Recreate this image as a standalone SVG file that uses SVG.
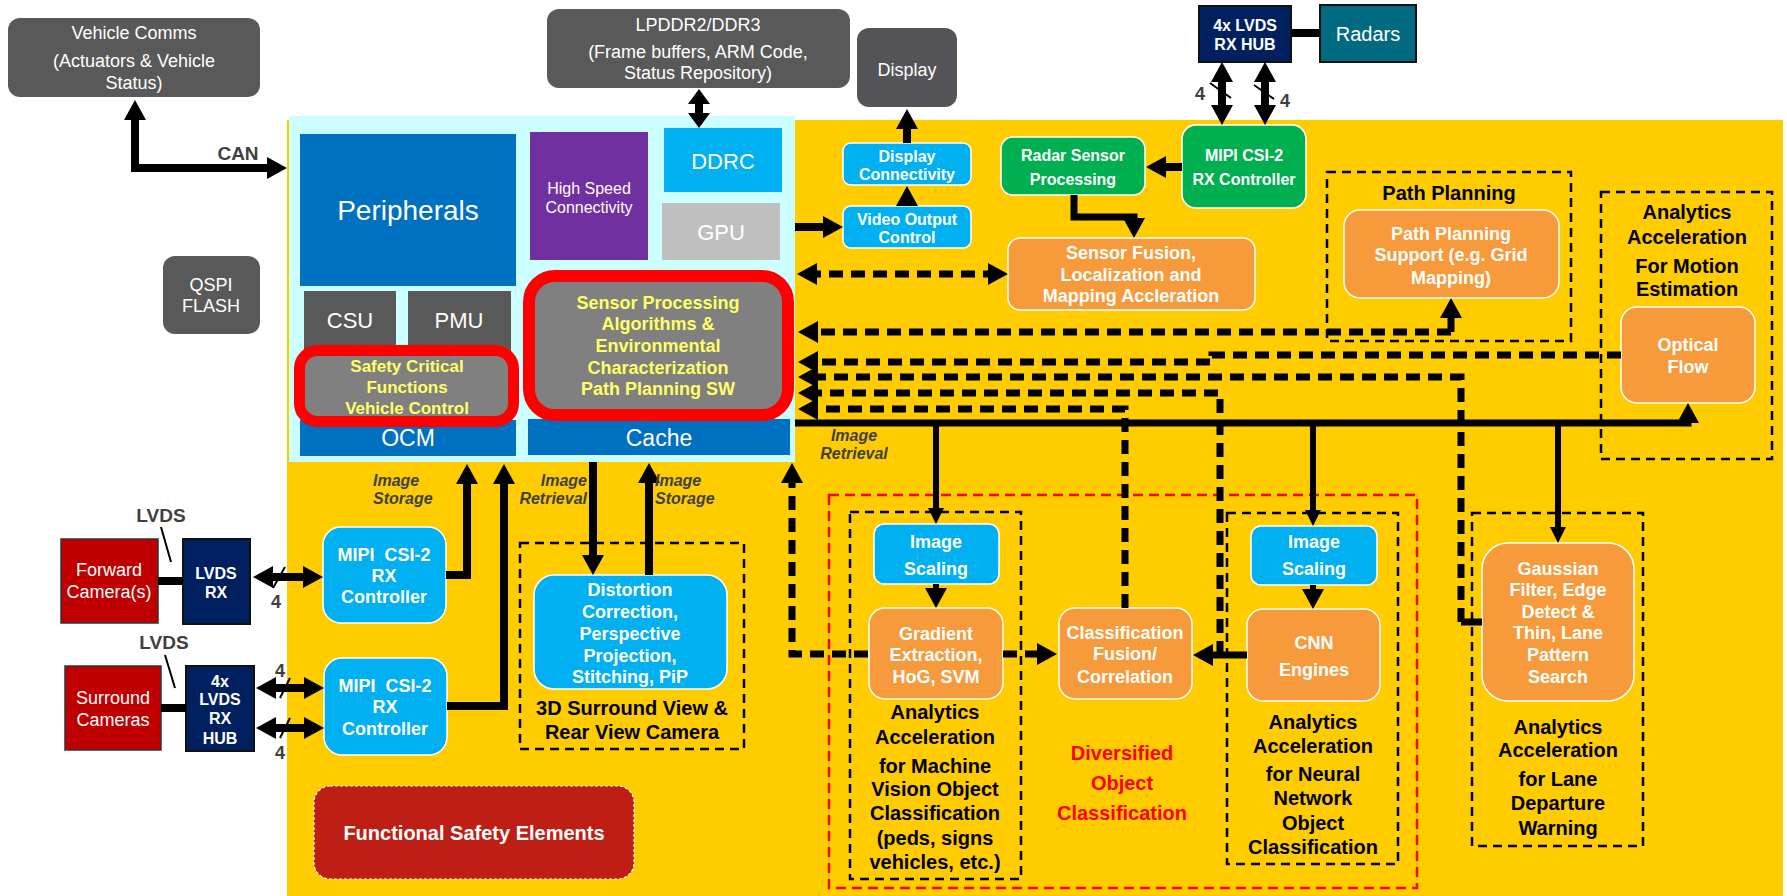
<svg xmlns="http://www.w3.org/2000/svg" width="1787" height="896" viewBox="0 0 1787 896">
<defs>
<style>
text{font-family:"Liberation Sans",Arial,Helvetica,sans-serif;text-anchor:middle}
.wt{fill:#fff}
.bd{font-weight:bold}
.yl{fill:#FFFF66;font-weight:bold}
.bk{fill:#000;font-weight:bold}
.gy{fill:#404040;font-weight:bold}
.rd{fill:#FF0000;font-weight:bold}
.it{fill:#404040;font-weight:bold;font-style:italic;font-size:16px}
.f16{font-size:16px}.f17{font-size:17px}.f18{font-size:18px}.f19{font-size:19px}.f20{font-size:20px}.f22{font-size:22px}.f23{font-size:23px}.f28{font-size:28px}
.org{fill:#F79A3B;stroke:#fff;stroke-width:1.5}
.blu{fill:#00B0F0;stroke:#fff;stroke-width:1.5}
.grn{fill:#00B050;stroke:#fff;stroke-width:1.5}
.dk{fill:#595959}
.nav{fill:#002060;stroke:#111;stroke-width:2}
.cam{fill:#C00000;stroke:#333;stroke-width:1.5}
.grp{fill:none;stroke:#000;stroke-width:2.5;stroke-dasharray:9 6}
.grpr{fill:none;stroke:#FF0000;stroke-width:2.5;stroke-dasharray:10 6}
.ln{fill:none;stroke:#000;stroke-width:8}
.bus{fill:none;stroke:#000;stroke-width:7}
.br{fill:none;stroke:#000;stroke-width:6}
.dl{fill:none;stroke:#000;stroke-width:7;stroke-dasharray:14 8}
.thin{fill:none;stroke:#000;stroke-width:2}
</style>
<marker id="ah" viewBox="0 0 20 22" markerWidth="20" markerHeight="22" refX="10" refY="11" markerUnits="userSpaceOnUse" orient="auto-start-reverse">
<path d="M0,0 L20,11 L0,22 z" fill="#000"/>
</marker>
<marker id="ahs" viewBox="0 0 16 16" markerWidth="16" markerHeight="16" refX="8" refY="8" markerUnits="userSpaceOnUse" orient="auto-start-reverse">
<path d="M0,0 L16,8 L0,16 z" fill="#000"/>
</marker>
<marker id="ahw" viewBox="0 0 15 22" markerWidth="15" markerHeight="22" refX="7.5" refY="11" markerUnits="userSpaceOnUse" orient="auto-start-reverse">
<path d="M0,0 L15,11 L0,22 z" fill="#000"/>
</marker>
</defs>

<rect width="1787" height="896" fill="#fff"/>
<!-- SoC backdrop: programmable logic (yellow) and processing system (cyan) -->
<rect x="287" y="120" width="1496" height="776" fill="#FFCC00"/>
<rect x="289" y="116" width="506" height="346" fill="#CCFFFF"/>

<!-- group frames -->
<g id="frames">
<rect class="grp" x="1327" y="172" width="244" height="169"/>
<rect class="grp" x="1601" y="192" width="171" height="267"/>
<rect class="grpr" x="829" y="495" width="588" height="393"/>
<rect class="grp" x="850" y="512" width="171" height="367"/>
<rect class="grp" x="1227" y="513" width="171" height="351"/>
<rect class="grp" x="1472" y="513" width="171" height="333"/>
<rect class="grp" x="520" y="543" width="224" height="206"/>
</g>

<!-- external devices -->
<g id="vehicle-comms">
<rect class="dk" x="8" y="18" width="252" height="79" rx="12"/>
<text class="wt f18" x="134" y="39">Vehicle Comms</text>
<text class="wt f18" x="134" y="67">(Actuators &amp; Vehicle</text>
<text class="wt f18" x="134" y="89">Status)</text>
</g>
<g id="lpddr">
<rect class="dk" x="547" y="9" width="303" height="79" rx="12"/>
<text class="wt f18" x="698" y="31">LPDDR2/DDR3</text>
<text class="wt f18" x="698" y="58">(Frame buffers, ARM Code,</text>
<text class="wt f18" x="698" y="79">Status Repository)</text>
</g>
<g id="display">
<rect x="857" y="28" width="100" height="79" rx="12" fill="#545458"/>
<text class="wt f18" x="907" y="76">Display</text>
</g>
<g id="qspi">
<rect class="dk" x="163" y="256" width="97" height="78" rx="12"/>
<text class="wt f18" x="211" y="291">QSPI</text>
<text class="wt f18" x="211" y="312">FLASH</text>
</g>
<g id="radar-hub">
<rect class="nav" x="1199" y="6" width="92" height="56"/>
<text class="wt bd f16" x="1245" y="31">4x LVDS</text>
<text class="wt bd f16" x="1245" y="50">RX HUB</text>
</g>
<g id="radars">
<rect x="1320" y="5" width="96" height="57" fill="#006B80" stroke="#111" stroke-width="2"/>
<text class="wt f20" x="1368" y="41">Radars</text>
</g>
<g id="forward-camera">
<rect class="cam" x="61" y="539" width="97" height="84"/>
<text class="wt f18" x="109" y="576">Forward</text>
<text class="wt f18" x="109" y="598">Camera(s)</text>
</g>
<g id="lvds-rx">
<rect class="nav" x="183" y="539" width="67" height="85"/>
<text class="wt bd f16" x="216" y="579">LVDS</text>
<text class="wt bd f16" x="216" y="598">RX</text>
</g>
<g id="surround-cameras">
<rect class="cam" x="65" y="666" width="96" height="84"/>
<text class="wt f18" x="113" y="704">Surround</text>
<text class="wt f18" x="113" y="726">Cameras</text>
</g>
<g id="lvds-hub">
<rect class="nav" x="186" y="666" width="68" height="85"/>
<text class="wt bd f16" x="220" y="687">4x</text>
<text class="wt bd f16" x="220" y="705">LVDS</text>
<text class="wt bd f16" x="220" y="724">RX</text>
<text class="wt bd f16" x="220" y="744">HUB</text>
</g>

<!-- processing system blocks -->
<g id="peripherals">
<rect x="300" y="134" width="216" height="152" fill="#0070C0"/>
<text class="wt f28" x="408" y="220">Peripherals</text>
</g>
<g id="high-speed">
<rect x="530" y="132" width="118" height="128" fill="#7030A0"/>
<text class="wt f16" x="589" y="194">High Speed</text>
<text class="wt f16" x="589" y="213">Connectivity</text>
</g>
<g id="ddrc">
<rect x="664" y="128" width="118" height="64" fill="#00B0F0"/>
<text class="wt f22" x="723" y="169">DDRC</text>
</g>
<g id="gpu">
<rect x="662" y="203" width="118" height="57" fill="#BFBFBF"/>
<text class="wt f22" x="721" y="240">GPU</text>
</g>
<g id="csu">
<rect class="dk" x="304" y="291" width="92" height="65"/>
<text class="wt f22" x="350" y="328">CSU</text>
</g>
<g id="pmu">
<rect class="dk" x="408" y="291" width="103" height="65"/>
<text class="wt f22" x="459" y="328">PMU</text>
</g>
<g id="ocm">
<rect x="300" y="420" width="216" height="36" fill="#0070C0"/>
<text class="wt f23" x="408" y="446">OCM</text>
</g>
<g id="cache">
<rect x="528" y="419" width="262" height="36" fill="#0070C0"/>
<text class="wt f23" x="659" y="446">Cache</text>
</g>
<g id="safety-critical">
<rect x="299.5" y="350.5" width="214" height="71" rx="18" fill="#808080" stroke="#FF0000" stroke-width="11"/>
<text class="yl f17" x="407" y="372">Safety Critical</text>
<text class="yl f17" x="407" y="393">Functions</text>
<text class="yl f17" x="407" y="414">Vehicle Control</text>
</g>
<g id="sensor-processing">
<rect x="529" y="276" width="259" height="139" rx="26" fill="#808080" stroke="#FF0000" stroke-width="12"/>
<text class="yl f18" x="658" y="309">Sensor Processing</text>
<text class="yl f18" x="658" y="330">Algorithms &amp;</text>
<text class="yl f18" x="658" y="352">Environmental</text>
<text class="yl f18" x="658" y="374">Characterization</text>
<text class="yl f18" x="658" y="395">Path Planning SW</text>
</g>

<!-- programmable logic blocks -->
<g id="display-connectivity">
<rect class="blu" x="843" y="143" width="128" height="42" rx="8"/>
<text class="wt bd f16" x="907" y="162">Display</text>
<text class="wt bd f16" x="907" y="180">Connectivity</text>
</g>
<g id="video-output">
<rect class="blu" x="843" y="206" width="128" height="42" rx="8"/>
<text class="wt bd f16" x="907" y="225">Video Output</text>
<text class="wt bd f16" x="907" y="243">Control</text>
</g>
<g id="radar-sensor">
<rect class="grn" x="1001" y="137" width="144" height="58" rx="12"/>
<text class="wt bd f16" x="1073" y="161">Radar Sensor</text>
<text class="wt bd f16" x="1073" y="185">Processing</text>
</g>
<g id="mipi-radar">
<rect class="grn" x="1182" y="125" width="124" height="83" rx="14"/>
<text class="wt bd f16" x="1244" y="161">MIPI CSI-2</text>
<text class="wt bd f16" x="1244" y="185">RX Controller</text>
</g>
<g id="sensor-fusion">
<rect class="org" x="1008" y="238" width="247" height="72" rx="12"/>
<text class="wt bd f18" x="1131" y="259">Sensor Fusion,</text>
<text class="wt bd f18" x="1131" y="281">Localization and</text>
<text class="wt bd f18" x="1131" y="302">Mapping Accleration</text>
</g>
<g id="path-planning">
<text class="bk f20" x="1449" y="200">Path Planning</text>
<rect class="org" x="1344" y="210" width="215" height="88" rx="16"/>
<text class="wt bd f18" x="1451" y="240">Path Planning</text>
<text class="wt bd f18" x="1451" y="261">Support (e.g. Grid</text>
<text class="wt bd f18" x="1451" y="284">Mapping)</text>
</g>
<g id="optical-flow">
<text class="bk f20" x="1687" y="219">Analytics</text>
<text class="bk f20" x="1687" y="244">Acceleration</text>
<text class="bk f20" x="1687" y="273">For Motion</text>
<text class="bk f20" x="1687" y="296">Estimation</text>
<rect class="org" x="1621" y="307" width="134" height="96" rx="16"/>
<text class="wt bd f18" x="1688" y="351">Optical</text>
<text class="wt bd f18" x="1688" y="373">Flow</text>
</g>
<g id="mipi-forward">
<rect class="blu" x="323" y="527" width="123" height="96" rx="18"/>
<text class="wt bd f18" x="384" y="561" xml:space="preserve">MIPI  CSI-2</text>
<text class="wt bd f18" x="384" y="582">RX</text>
<text class="wt bd f18" x="384" y="603">Controller</text>
</g>
<g id="mipi-surround">
<rect class="blu" x="324" y="658" width="123" height="97" rx="18"/>
<text class="wt bd f18" x="385" y="692" xml:space="preserve">MIPI  CSI-2</text>
<text class="wt bd f18" x="385" y="713">RX</text>
<text class="wt bd f18" x="385" y="735">Controller</text>
</g>
<g id="surround-view">
<rect class="blu" x="534" y="575" width="193" height="114" rx="20"/>
<text class="wt bd f18" x="630" y="596">Distortion</text>
<text class="wt bd f18" x="630" y="618">Correction,</text>
<text class="wt bd f18" x="630" y="640">Perspective</text>
<text class="wt bd f18" x="630" y="662">Projection,</text>
<text class="wt bd f18" x="630" y="683">Stitching, PiP</text>
<text class="bk f20" x="632" y="715">3D Surround View &amp;</text>
<text class="bk f20" x="632" y="739">Rear View Camera</text>
</g>
<g id="machine-vision">
<rect class="blu" x="874" y="524" width="125" height="60" rx="10"/>
<text class="wt bd f18" x="936" y="548">Image</text>
<text class="wt bd f18" x="936" y="575">Scaling</text>
<rect class="org" x="869" y="608" width="134" height="91" rx="16"/>
<text class="wt bd f18" x="936" y="640">Gradient</text>
<text class="wt bd f18" x="936" y="661">Extraction,</text>
<text class="wt bd f18" x="936" y="683">HoG, SVM</text>
<text class="bk f20" x="935" y="719">Analytics</text>
<text class="bk f20" x="935" y="744">Acceleration</text>
<text class="bk f20" x="935" y="773">for Machine</text>
<text class="bk f20" x="935" y="796">Vision Object</text>
<text class="bk f20" x="935" y="820">Classification</text>
<text class="bk f20" x="935" y="845">(peds, signs</text>
<text class="bk f20" x="935" y="869">vehicles, etc.)</text>
</g>
<g id="classification-fusion">
<rect class="org" x="1059" y="608" width="133" height="91" rx="16"/>
<text class="wt bd f18" x="1125" y="639">Classification</text>
<text class="wt bd f18" x="1125" y="660">Fusion/</text>
<text class="wt bd f18" x="1125" y="683">Correlation</text>
<text class="rd f20" x="1122" y="760">Diversified</text>
<text class="rd f20" x="1122" y="790">Object</text>
<text class="rd f20" x="1122" y="820">Classification</text>
</g>
<g id="neural-network">
<rect class="blu" x="1251" y="526" width="126" height="59" rx="10"/>
<text class="wt bd f18" x="1314" y="548">Image</text>
<text class="wt bd f18" x="1314" y="575">Scaling</text>
<rect class="org" x="1247" y="609" width="133" height="92" rx="16"/>
<text class="wt bd f18" x="1314" y="649">CNN</text>
<text class="wt bd f18" x="1314" y="676">Engines</text>
<text class="bk f20" x="1313" y="729">Analytics</text>
<text class="bk f20" x="1313" y="753">Acceleration</text>
<text class="bk f20" x="1313" y="781">for Neural</text>
<text class="bk f20" x="1313" y="805">Network</text>
<text class="bk f20" x="1313" y="830">Object</text>
<text class="bk f20" x="1313" y="854">Classification</text>
</g>
<g id="lane-departure">
<rect class="org" x="1482" y="543" width="152" height="158" rx="26"/>
<text class="wt bd f18" x="1558" y="575">Gaussian</text>
<text class="wt bd f18" x="1558" y="596">Filter, Edge</text>
<text class="wt bd f18" x="1558" y="618">Detect &amp;</text>
<text class="wt bd f18" x="1558" y="639">Thin, Lane</text>
<text class="wt bd f18" x="1558" y="661">Pattern</text>
<text class="wt bd f18" x="1558" y="683">Search</text>
<text class="bk f20" x="1558" y="734">Analytics</text>
<text class="bk f20" x="1558" y="757">Acceleration</text>
<text class="bk f20" x="1558" y="786">for Lane</text>
<text class="bk f20" x="1558" y="810">Departure</text>
<text class="bk f20" x="1558" y="835">Warning</text>
</g>
<g id="functional-safety">
<rect x="314" y="786" width="320" height="93" rx="16" fill="#BF1E14" stroke="#fff" stroke-width="1.2" stroke-dasharray="3 2"/>
<text class="wt bd f20" x="474" y="840">Functional Safety Elements</text>
</g>

<!-- connectors -->
<g id="connectors">
<path class="ln" d="M135,110 V168 H277" marker-start="url(#ah)" marker-end="url(#ah)"/>
<path class="ln" d="M699,96.5 V120.5" marker-start="url(#ahw)" marker-end="url(#ahw)"/>
<path class="ln" d="M907,143 V119" marker-end="url(#ah)"/>
<path class="ln" d="M907,206 V196" marker-end="url(#ah)"/>
<path class="ln" d="M795,227 H833" marker-end="url(#ah)"/>
<path class="ln" d="M1182,167 H1156" marker-end="url(#ah)"/>
<path class="bus" d="M1074,195 V217 H1134 V228" marker-end="url(#ah)"/>
<path class="ln" d="M1291,33 H1320"/>
<path class="ln" d="M1222,72 V115" marker-start="url(#ah)" marker-end="url(#ah)"/>
<path class="ln" d="M1265,72 V115" marker-start="url(#ah)" marker-end="url(#ah)"/>
<path class="thin" d="M1210,83 L1231,98 M1254,85 L1274,99"/>
<path class="ln" d="M158,581 H183"/>
<path class="ln" d="M263,577 H313" marker-start="url(#ah)" marker-end="url(#ah)"/>
<path class="thin" d="M285,567 L273,588"/>
<path class="ln" d="M161,708 H186"/>
<path class="ln" d="M266,688 H314" marker-start="url(#ah)" marker-end="url(#ah)"/>
<path class="ln" d="M266,728 H314" marker-start="url(#ah)" marker-end="url(#ah)"/>
<path class="thin" d="M290,678 L280,698 M290,718 L280,738"/>
<path class="ln" d="M446,575 H467 V474" marker-end="url(#ah)"/>
<path class="ln" d="M447,706 H504 V474" marker-end="url(#ah)"/>
<path class="ln" d="M593,462 V565" marker-end="url(#ah)"/>
<path class="ln" d="M649,575 V473" marker-end="url(#ah)"/>
<path class="bus" d="M795,423 H1688 V413" marker-end="url(#ah)"/>
<path class="br" d="M936,423 V516" marker-end="url(#ahs)"/>
<path class="br" d="M1313,423 V518" marker-end="url(#ahs)"/>
<path class="br" d="M1558,423 V535" marker-end="url(#ahs)"/>
<path class="br" d="M936,584 V598" marker-end="url(#ah)"/>
<path class="br" d="M1313,585 V599" marker-end="url(#ah)"/>
<path class="dl" d="M807,274 H998" marker-start="url(#ah)" marker-end="url(#ah)"/>
<path class="dl" d="M1451,332 H808" marker-end="url(#ah)"/>
<path class="bus" d="M1451,332 V308" marker-end="url(#ah)"/>
<path class="dl" d="M1621,355 H1212 V362 H808" marker-end="url(#ah)"/>
<path class="bus" d="M1482,622 H1461"/>
<path class="dl" d="M1461,622 V377 H808" marker-end="url(#ah)"/>
<path class="bus" d="M1247,655 H1220"/>
<path class="dl" d="M1220,655 V393 H808" marker-end="url(#ah)"/>
<path class="bus" d="M1220,655 H1203" marker-end="url(#ah)"/>
<path class="dl" d="M1125,608 V409 H808" marker-end="url(#ah)"/>
<path class="dl" d="M868,654 H792 V473" marker-end="url(#ah)"/>
<path class="dl" d="M1003,654 H1047" marker-end="url(#ah)"/>
<path class="thin" d="M161,527 L171,562 M165,655 L175,688" stroke-width="1.5"/>
</g>

<!-- connector labels -->
<g id="labels">
<text class="gy f19" x="238" y="160">CAN</text>
<text class="gy f18" x="1200" y="100">4</text>
<text class="gy f18" x="1285" y="107">4</text>
<text class="gy f18" x="276" y="608">4</text>
<text class="gy f18" x="280" y="677">4</text>
<text class="gy f18" x="280" y="759">4</text>
<text class="gy f19" x="161" y="522">LVDS</text>
<text class="gy f19" x="164" y="649">LVDS</text>
<text class="it" x="373" y="486" style="text-anchor:start">Image</text>
<text class="it" x="373" y="504" style="text-anchor:start">Storage</text>
<text class="it" x="587" y="486" style="text-anchor:end">Image</text>
<text class="it" x="587" y="504" style="text-anchor:end">Retrieval</text>
<text class="it" x="655" y="486" style="text-anchor:start">Image</text>
<text class="it" x="655" y="504" style="text-anchor:start">Storage</text>
<text class="it" x="854" y="441">Image</text>
<text class="it" x="854" y="459">Retrieval</text>
</g>
</svg>
